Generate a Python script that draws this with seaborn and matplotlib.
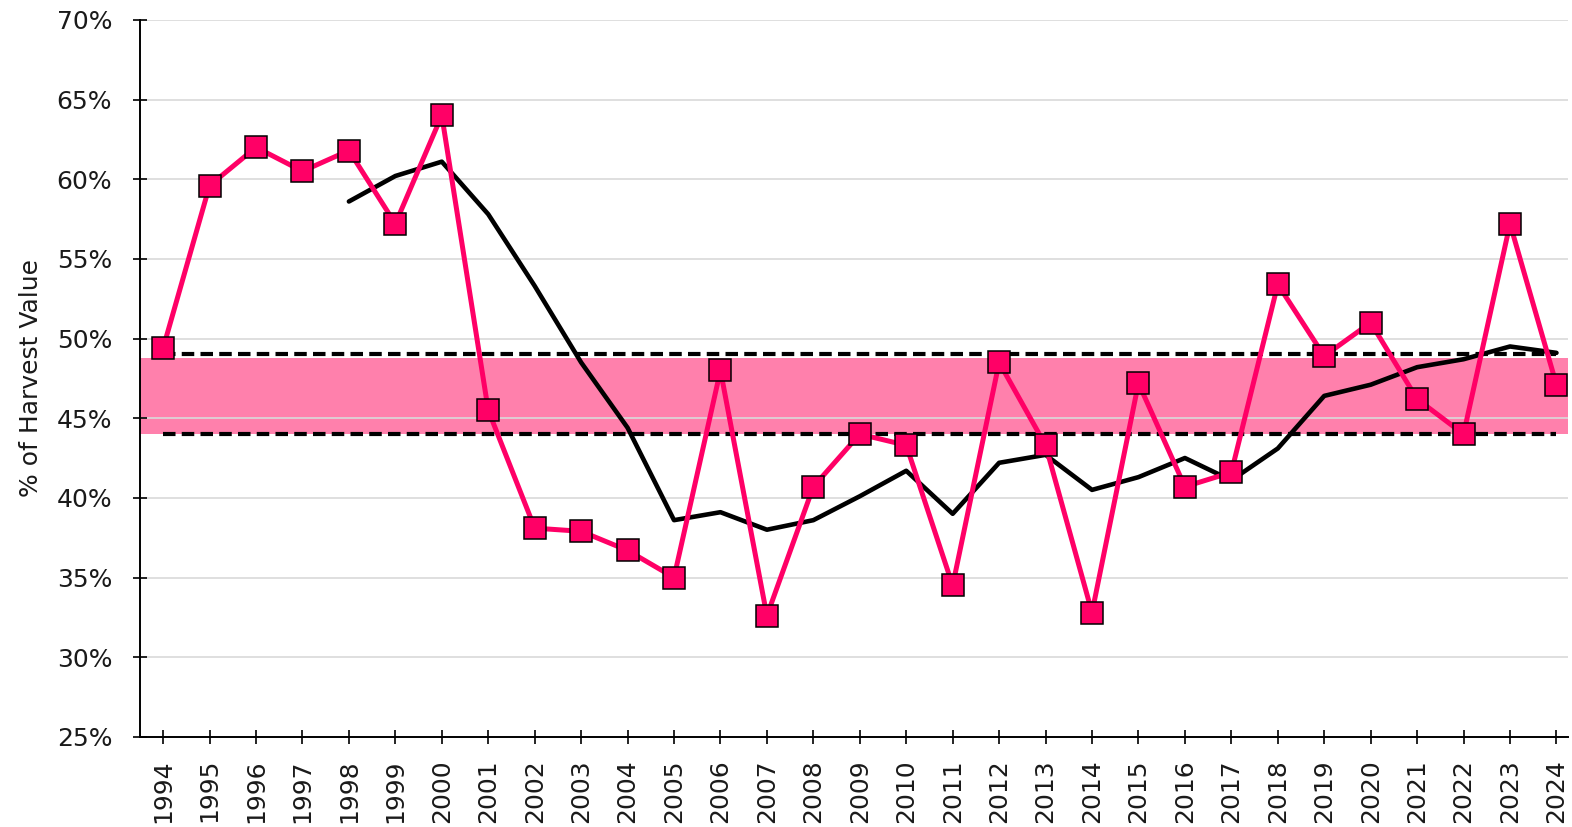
import matplotlib
matplotlib.use("Agg")
import matplotlib.pyplot as plt
import seaborn as sns
import pandas as pd
from matplotlib.ticker import PercentFormatter

sns.set_theme(style="whitegrid")
plt.rcParams["font.family"] = ["DejaVu Sans"]

years = list(range(1994, 2025))
share = [49.4, 59.6, 62.0, 60.5, 61.8, 57.2, 64.0, 45.5, 38.1, 37.9, 36.7,
         35.0, 48.0, 32.6, 40.7, 44.0, 43.3, 34.5, 48.5, 43.3, 32.8, 47.2,
         40.7, 41.6, 53.4, 48.9, 51.0, 46.2, 44.0, 57.2, 47.1]
avg_years = list(range(1998, 2025))
avg_share = [58.6, 60.2, 61.1, 57.8, 53.3, 48.5, 44.4, 38.6, 39.1, 38.0,
             38.6, 40.1, 41.7, 39.0, 42.2, 42.7, 40.5, 41.3, 42.5, 41.1,
             43.1, 46.4, 47.1, 48.2, 48.7, 49.5, 49.1]
band_low = 44.0
band_high = 48.8
ref_low = 44.0
ref_high = 49.0

df = pd.DataFrame({"year": years, "share": share})
df_avg = pd.DataFrame({"year": avg_years, "share": avg_share})

fig, ax = plt.subplots(figsize=(15.72, 8.27), dpi=100)
fig.subplots_adjust(left=0.089, right=0.9975, top=0.976, bottom=0.109)

ax.set_xlim(1993.5, 2024.25)
ax.set_ylim(25, 70)

# target band
ax.fill_between([1993.5, 2024.25], band_low, band_high, color="#FF80AC", zorder=1, linewidth=0)
ax.set_axisbelow("line")

for v in [ref_low, ref_high]:
    ax.plot([1994, 2024], [v, v], color="black", linestyle=(0, (3, 1.5)), linewidth=3, zorder=3)

sns.lineplot(data=df_avg, x="year", y="share", color="black", linewidth=3.3, ax=ax, zorder=4)
sns.lineplot(data=df, x="year", y="share", color="#FF0066", linewidth=3.6, marker="s",
             markersize=16, markerfacecolor="#FF0066", markeredgecolor="black",
             markeredgewidth=1.1, ax=ax, zorder=5)

ax.set_xticks(years)
ax.set_xticklabels([str(y) for y in years], rotation=90)
ax.set_yticks(range(25, 71, 5))
ax.yaxis.set_major_formatter(PercentFormatter(decimals=0))
ax.tick_params(axis="both", labelsize=18, colors="black", labelcolor="#1a1a1a",
               direction="inout", length=10, width=1.2, bottom=True, left=True)
ax.tick_params(axis="y", pad=15)
ax.tick_params(axis="x", pad=11)

ax.grid(axis="y", color="#D9D9D9", linewidth=1.2)
ax.grid(axis="x", visible=False)
for side in ["top", "right"]:
    ax.spines[side].set_visible(False)
for side in ["left", "bottom"]:
    ax.spines[side].set_color("black")
    ax.spines[side].set_linewidth(1.4)

ax.set_xlabel("")
ax.set_ylabel("% of Harvest Value", fontsize=18, color="#1a1a1a", labelpad=10)

plt.savefig("out.png", dpi=100)
